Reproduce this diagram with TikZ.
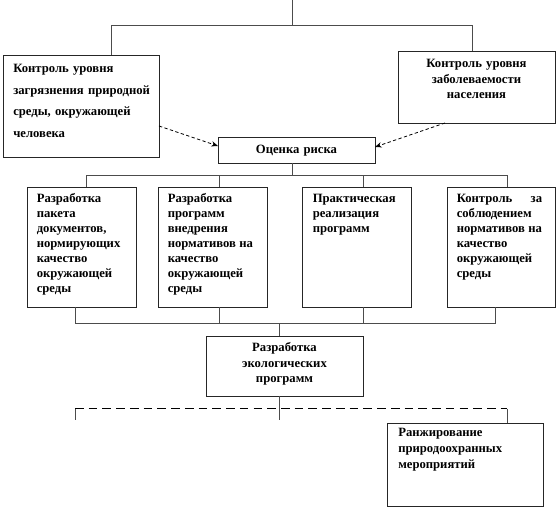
\documentclass[tikz,border=0pt]{standalone}
\usepackage{fontspec}
\setmainfont{Liberation Serif}
\usetikzlibrary{calc,shadows,arrows.meta}
\newcommand{\spreadln}[2]{\makebox[\hsize][l]{#1\hfill#2}}
\begin{document}
\begin{tikzpicture}[x=0.75pt,y=-0.75pt,
  box/.style={draw=black!85, line width=0.6pt, fill=white, inner sep=0pt, outer sep=0pt,
    drop shadow={shadow xshift=0.9pt, shadow yshift=-0.9pt, fill=black!45, opacity=1}},
  conn/.style={draw=black!70, line width=0.55pt},
  arr/.style={draw=black, line width=0.6pt, dash pattern=on 2.5pt off 1.8pt, -{Stealth[length=5pt,width=4pt]}},
  dsh/.style={draw=black, line width=0.75pt, dash pattern=on 6.5pt off 3.8pt},
  txt/.style={inner sep=0pt, font=\bfseries\fontsize{9.5}{11.25}\selectfont, align=left, text width=64pt, anchor=base west},
  ctxt/.style={inner sep=0pt, font=\bfseries\fontsize{9.5}{11.6}\selectfont, align=center, text width=108pt, anchor=base},
]
\useasboundingbox[fill=white] (0,0) rectangle (558,509);

% boxes
\node[box, minimum width=117pt, minimum height=76.5pt] (L) at (81,106) {};
\node[box, minimum width=117.75pt, minimum height=54pt] (R) at (476.5,87) {};
\node[box, minimum width=117.75pt, minimum height=19.5pt] (K) at (296.5,150) {};
\node[box, minimum width=81.75pt, minimum height=90pt] (B1) at (81.5,247) {};
\node[box, minimum width=81.75pt, minimum height=90pt] (B2) at (212.5,247) {};
\node[box, minimum width=81.75pt, minimum height=90pt] (B3) at (356.5,247) {};
\node[box, minimum width=81pt, minimum height=90pt] (B4) at (501,247) {};
\node[box, minimum width=117.75pt, minimum height=45pt] (E) at (284.5,366) {};
\node[box, minimum width=117pt, minimum height=62.25pt] (P) at (465,464.5) {};

% texts
\node[txt, text width=112pt, font=\bfseries\fontsize{9.5}{16.1}\selectfont] (Lt) at ($(L.north west)+(10,18)$)
  {Контроль уровня\\загрязнения природной\\среды, окружающей\\человека};
\node[ctxt] (Rt) at ($(R.north)+(0,17)$) {Контроль уровня\\заболеваемости\\населения};
\node[ctxt] (Kt) at ($(K.north)+(0,17)$) {Оценка риска};
\node[txt] (B1t) at ($(B1.north west)+(9.5,16)$)
  {Разработка\\пакета\\документов,\\нормирующих\\качество\\окружающей\\среды};
\node[txt] (B2t) at ($(B2.north west)+(9.5,16)$)
  {Разработка\\программ\\внедрения\\\spreadln{нормативов}{на}\\качество\\окружающей\\среды};
\node[txt] (B3t) at ($(B3.north west)+(10.5,16)$)
  {Практическая\\реализация\\программ};
\node[txt] (B4t) at ($(B4.north west)+(9.5,16)$)
  {\spreadln{Контроль}{за}\\соблюдением\\\spreadln{нормативов}{на}\\качество\\окружающей\\среды};
\node[ctxt] (Et) at ($(E.north)+(0,16)$) {Разработка\\экологических\\программ};
\node[txt, text width=100pt, font=\bfseries\fontsize{9.5}{12}\selectfont] (Pt) at ($(P.north west)+(11,14)$)
  {Ранжирование\\природоохранных\\мероприятий};

% top tree
\coordinate (top) at (292,0);
\draw[conn] (top) -- ++(0,25);
\draw[conn] ($(L.north)+(30,0)$) |- ($(R.north)+(-4.5,-26)$) -- ($(R.north)+(-4.5,0)$);

% dashed arrows to risk
\draw[arr] ($(L.east)+(0,20)$) -- ($(K.west)+(0,-4)$);
\draw[arr] ($(R.south)+(-31.5,0)$) -- ($(K.east)+(0,-3)$);

% risk to four boxes
\draw[conn] ($(K.south)+(-4.5,0)$) -- ++(0,12);
\draw[conn] ($(B1.north)+(5,0)$) |- ($(B4.north)+(6,-12)$) -- ($(B4.north)+(6,0)$);
\draw[conn] ($(B2.north)+(6.5,0)$) -- ++(0,-12);
\draw[conn] ($(B3.north)+(6.5,0)$) -- ++(0,-12);

% four boxes to E
\draw[conn] ($(B1.south)+(-6.5,0)$) |- ($(B4.south)+(-6,16)$) -- ($(B4.south)+(-6,0)$);
\draw[conn] ($(B2.south)+(6.5,0)$) -- ++(0,16);
\draw[conn] ($(B3.south)+(6.5,0)$) -- ++(0,16);
\draw[conn] ($(E.north)+(-5.5,0)$) -- ++(0,-13);

% E to bottom level
\draw[conn] ($(E.south)+(-5.5,0)$) -- ++(0,24);
\draw[dsh] ($(E.south)+(-209.5,13)$) -- ($(P.north)+(42,-14)$);
\draw[conn] ($(E.south)+(-209.5,13)$) -- ++(0,11);
\draw[conn] ($(P.north)+(42,-14)$) -- ($(P.north)+(42,0)$);
\end{tikzpicture}
\end{document}
